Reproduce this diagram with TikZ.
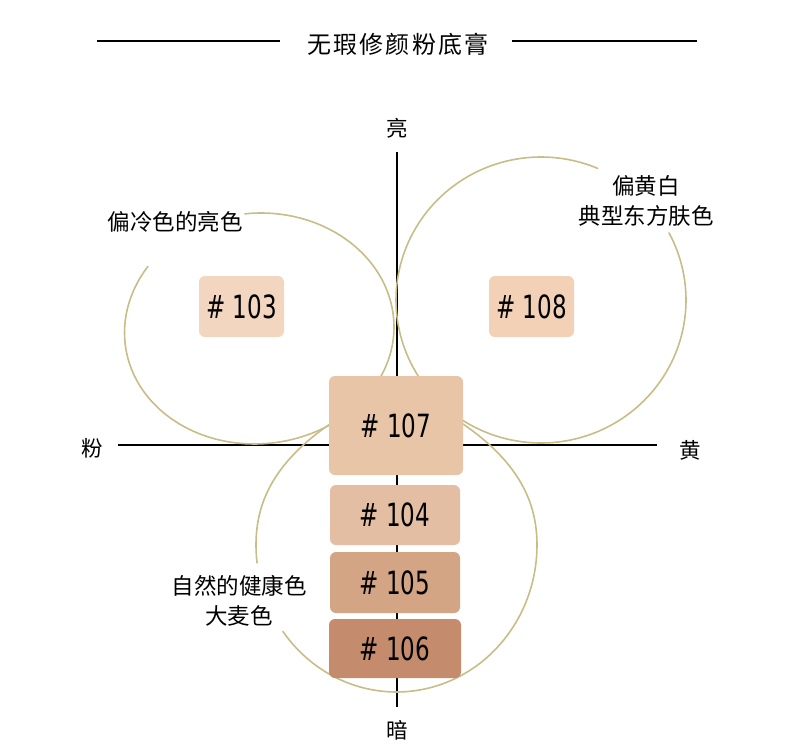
\documentclass[tikz,border=0pt]{standalone}
\usepackage{fontspec}
\setmainfont{Noto Sans CJK SC}
\newfontfamily\titlefont[LetterSpace=9]{Noto Sans CJK SC}
\newfontfamily\numfont[FakeStretch=0.72]{DejaVu Sans}
\definecolor{loop}{RGB}{200,188,135}
\definecolor{c103}{RGB}{242,214,191}
\definecolor{c108}{RGB}{242,209,182}
\definecolor{c107}{RGB}{233,197,167}
\definecolor{c104}{RGB}{227,190,163}
\definecolor{c105}{RGB}{212,165,133}
\definecolor{c106}{RGB}{196,139,109}
\tikzset{
  swatch/.style={rounded corners=6pt, inner sep=0pt, font=\numfont\fontsize{32}{32}\selectfont},
  axislbl/.style={inner sep=0pt, font=\fontsize{21.5}{21.5}\selectfont},
  lbl/.style={inner sep=0pt, align=center, font=\fontsize{22.5}{30}\selectfont},
  leaf/.style={draw=loop, line width=1.6pt, line cap=round},
  axisline/.style={draw=black, line width=1.5pt},
}
\begin{document}
\begin{tikzpicture}[x=1pt,y=-1pt]
\useasboundingbox (0,0) rectangle (790,755);
% title
\node[inner sep=0pt, font=\titlefont\fontsize{24}{24}\selectfont] (title) at (398,44) {无瑕修颜粉底膏};
\coordinate (tl1) at (97,41); \coordinate (tl2) at (280,41);
\coordinate (tr1) at (512,41); \coordinate (tr2) at (697,41);
\draw[axisline] (tl1) -- (tl2);
\draw[axisline] (tr1) -- (tr2);
% axis labels
\node[axislbl] (top) at (397,128) {亮};
\node[axislbl] (left) at (92,448) {粉};
\node[axislbl] (right) at (690,450) {黄};
\node[axislbl] (bottom) at (397,730) {暗};
\coordinate (vt) at (397,152); \coordinate (vb) at (397,707);
\coordinate (hl) at (118,445); \coordinate (hr) at (657,445);
\draw[axisline] (vt) -- (vb);
\draw[axisline] (hl) -- (hr);
% leaves
\draw[leaf] plot[domain=-97:212, samples=160, variable=\t]
  ({261+133*cos(\t)*(1+0.05*pow(max(0,cos(\t-135)),2))},
   {327+114*sin(\t)*(1+0.05*pow(max(0,cos(\t-135)),2))});
\draw[leaf] plot[domain=-28:293, samples=160, variable=\t]
  ({541+145*cos(\t)}, {300+143*sin(\t)});
\draw[leaf] plot[domain=173:504, samples=160, variable=\t]
  ({396.5+140.5*cos(\t)*(1-0.3*pow(max(0,-sin(\t)),3))}, {545+147*sin(\t)});
% labels
\node[lbl] (l103) at (175,222) {偏冷色的亮色};
\node[lbl] (l108) at (646,201) {偏黄白\\典型东方肤色};
\node[lbl] (lbot) at (239,601) {自然的健康色\\大麦色};
% swatches
\node[swatch, fill=c103, minimum width=85pt, minimum height=61pt] (s103) at (241.5,306.5) {\# 103};
\node[swatch, fill=c108, minimum width=85pt, minimum height=61pt] (s108) at (531.5,306.5) {\# 108};
\node[swatch, fill=c107, minimum width=134pt, minimum height=99pt] (s107) at (396,425.5) {\# 107};
\node[swatch, fill=c104, minimum width=130pt, minimum height=60pt] (s104) at (395,515) {\# 104};
\node[swatch, fill=c105, minimum width=130pt, minimum height=61pt] (s105) at (395,582.5) {\# 105};
\node[swatch, fill=c106, minimum width=132pt, minimum height=59pt] (s106) at (395,648.5) {\# 106};
\end{tikzpicture}
\end{document}
